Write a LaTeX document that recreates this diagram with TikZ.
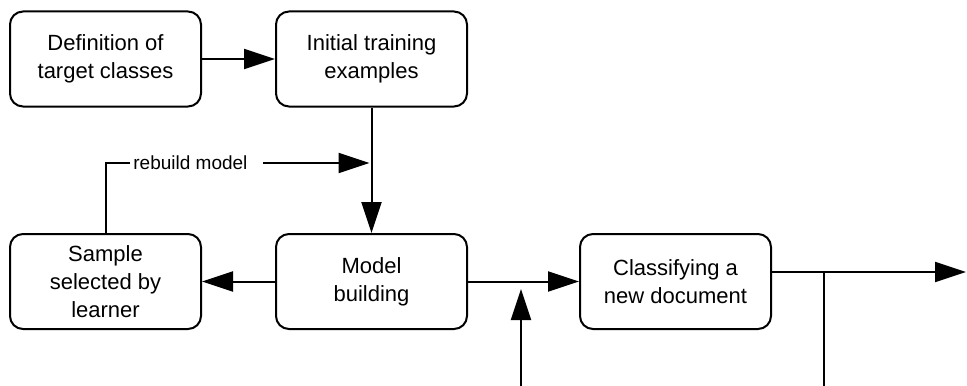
\documentclass[tikz,border=0pt]{standalone}
\usepackage{fontspec}
\setmainfont{Liberation Sans}
\usepackage{tikz}
\usetikzlibrary{calc}
\usetikzlibrary{arrows.meta}

\tikzset{
  stage/.style={draw=black, line width=1pt, rounded corners=6.5pt,
    minimum width=95.5pt, minimum height=47.5pt, inner sep=0pt,
    align=center, font=\fontsize{11}{14}\selectfont},
  flow/.style={line width=1pt, -{Triangle[length=15.5pt,width=10pt]}},
  wire/.style={line width=1pt},
  tag/.style={inner sep=0pt, font=\fontsize{9.5}{11}\selectfont}
}

\begin{document}
\begin{tikzpicture}[x=0.5pt,y=-0.5pt]

\useasboundingbox (0,0) rectangle (967,385);

\node[stage] (def) at (105.5,59) {Definition of\\target classes};
\node[stage] (init) at (371.5,59) {Initial training\\examples};
\node[stage] (sample) at (105.5,281.5) {Sample\\selected by\\learner};
\node[stage] (model) at (371.5,281.5) {Model\\building};
\node[stage] (classify) at (675.5,281.5) {Classifying a\\new document};

\node[tag, anchor=west] (rb) at (133,163) {rebuild model};

\coordinate (rbend) at (init.south |- rb);
\coordinate (feed) at (521,386);
\coordinate (feedtip) at (521,289);
\coordinate (out) at (966,272);
\coordinate (split) at (824,272);
\coordinate (splitend) at (824,386);

\draw[flow] (def) -- (init);
\draw[flow] (init) -- (model);
\draw[flow] (model) -- (sample);
\draw[flow] (model) -- (classify);

\draw[wire] (sample.north) |- ([xshift=-1.5pt]rb.west);
\draw[flow, shorten >=1pt] ([xshift=7.5pt]rb.east) -- (rbend);

\draw[flow] (feed) -- (feedtip);

\draw[flow] (classify.east |- out) -- (out);
\draw[wire] (split) -- (splitend);

\end{tikzpicture}
\end{document}
